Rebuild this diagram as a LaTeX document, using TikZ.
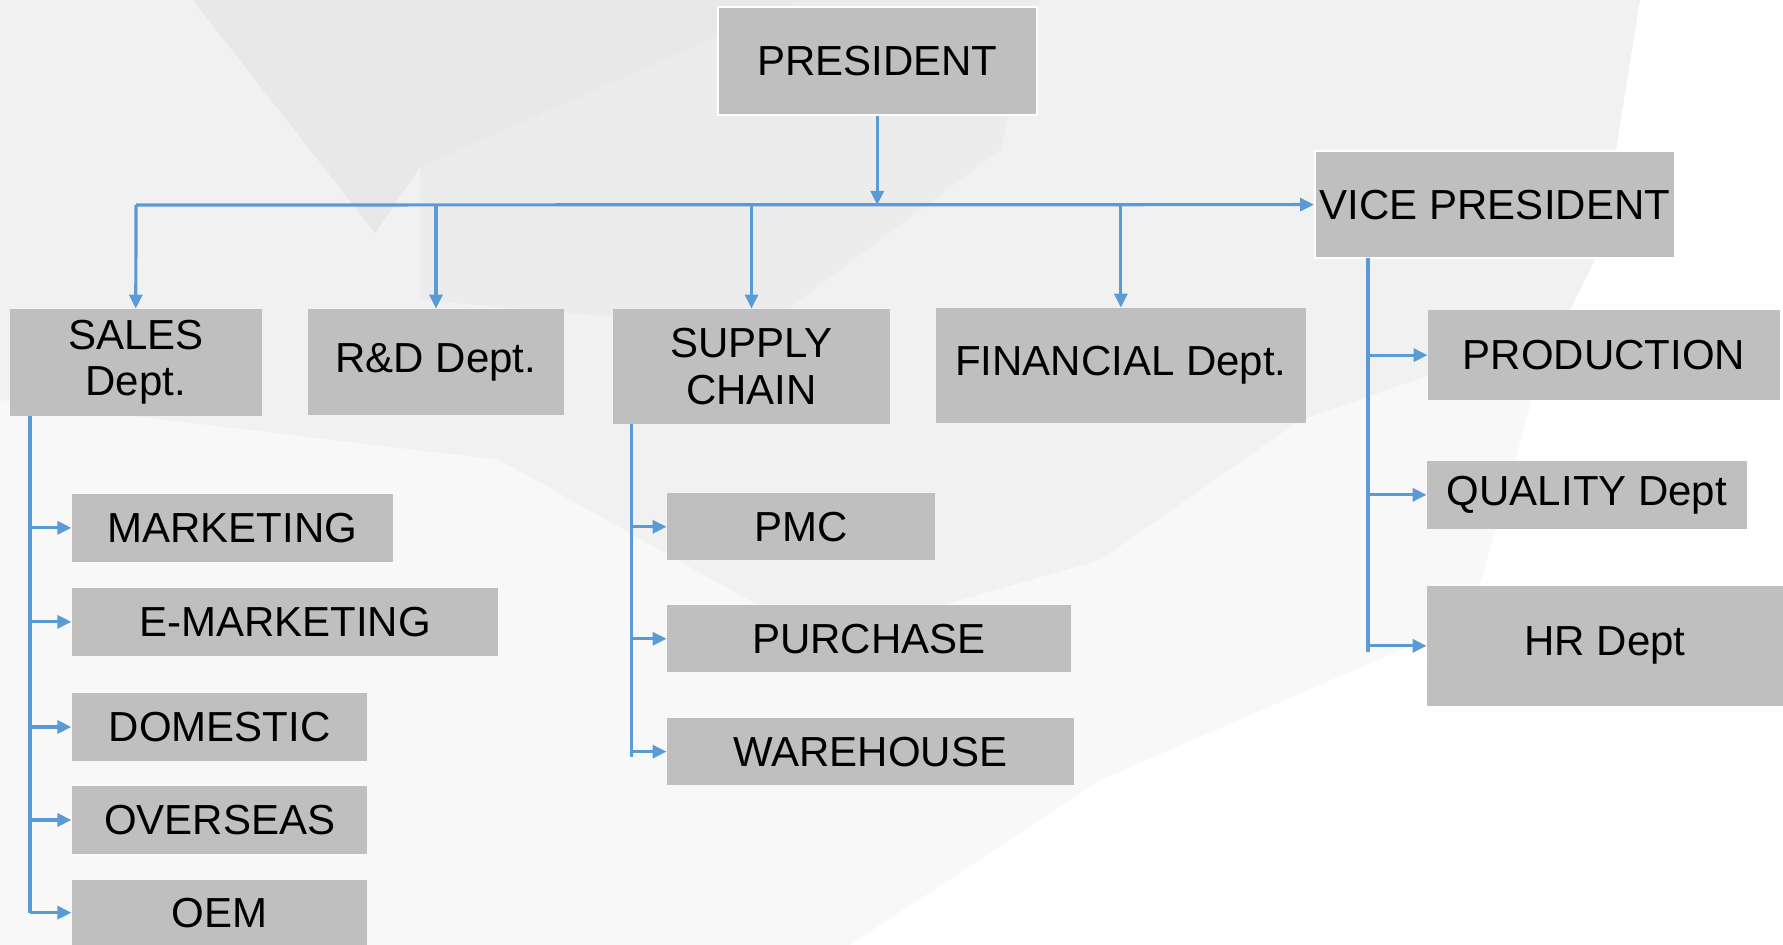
\documentclass[tikz,border=0pt]{standalone}
\usepackage{fontspec}
\setmainfont{Liberation Sans}
\usetikzlibrary{arrows.meta}
\definecolor{boxgray}{HTML}{BFBFBF}
\definecolor{linkblue}{HTML}{5B9BD5}
\definecolor{bgA}{HTML}{F1F1F1}
\definecolor{bgB}{HTML}{E8E8E8}
\definecolor{bgC}{HTML}{ECECEC}
\definecolor{bgD}{HTML}{F8F8F8}
\begin{document}
\begin{tikzpicture}[x=0.5pt,y=-0.5pt,
  box/.style={fill=boxgray,inner sep=0pt,align=center,
    font=\fontsize{21pt}{23.3pt}\selectfont},
  wbox/.style={box,draw=white,line width=1pt},
  link/.style={draw=linkblue,line width=1.6pt},
  arr/.style={link,-{Triangle[length=7pt,width=6.5pt]}}]
\useasboundingbox (0,0) rectangle (1783,945);
% background
\fill[white] (0,0) rectangle (1783,945);
\fill[bgD] (0,300) -- (1560,300) -- (1470,620) -- (1100,780) -- (850,945) -- (0,945) -- cycle;
\fill[bgA] (0,0) -- (1640,0) -- (1600,250) -- (1560,330) -- (1300,420) -- (1100,560) -- (820,640) -- (500,460) -- (0,400) -- cycle;
\fill[bgC] (420,167) -- (800,0) -- (1040,0) -- (1000,150) -- (760,330) -- (420,300) -- cycle;
\fill[bgB] (193,0) -- (800,0) -- (420,167) -- (375,233) -- cycle;
% nodes
\node[wbox,minimum width=159.75pt,minimum height=54pt] (pres) at (877.25,61) {PRESIDENT};
\node[wbox,minimum width=180pt,minimum height=53.9pt] (vp) at (1495,204.6) {VICE PRESIDENT};
\node[box,minimum width=126pt,minimum height=53.35pt] (sales) at (135.8,362.35) {SALES\\Dept.};
\node[box,minimum width=128pt,minimum height=52.85pt] (rd) at (436,361.85) {R\&D Dept.};
\node[box,minimum width=138.5pt,minimum height=57.35pt] (supply) at (751.5,366.35) {SUPPLY\\CHAIN};
\node[box,minimum width=185.15pt,minimum height=57.35pt] (fin) at (1120.85,365.35) {FINANCIAL Dept.};
\node[box,minimum width=176pt,minimum height=45.15pt] (prod) at (1604,355.15) {PRODUCTION};
\node[box,minimum width=160pt,minimum height=33.85pt] (qual) at (1587,494.85) {QUALITY Dept};
\node[box,minimum width=178pt,minimum height=59.85pt] (hr) at (1605,645.85) {HR Dept};
\node[box,minimum width=160.45pt,minimum height=33.85pt] (mkt) at (232.25,527.85) {MARKETING};
\node[box,minimum width=213.25pt,minimum height=33.85pt] (emkt) at (285.05,621.85) {E-MARKETING};
\node[box,minimum width=147.8pt,minimum height=33.7pt] (dom) at (219.6,727) {DOMESTIC};
\node[box,minimum width=147.8pt,minimum height=33.7pt] (ovs) at (219.6,820) {OVERSEAS};
\node[box,minimum width=147.8pt,minimum height=32.35pt] (oem) at (219.6,912.65) {OEM};
\node[box,minimum width=134pt,minimum height=33.5pt] (pmc) at (801,526.8) {PMC};
\node[box,minimum width=201.8pt,minimum height=33.5pt] (pur) at (868.8,638.8) {PURCHASE};
\node[box,minimum width=203.25pt,minimum height=33.65pt] (wh) at (870.25,751.65) {WAREHOUSE};
% coordinates
\coordinate (hub) at (877.25,205);
\coordinate (hl) at (136,205);
\coordinate (s0) at (30,415.7);
\coordinate (s1) at (30,912.65);
\coordinate (c0) at (631.5,423.7);
\coordinate (c1) at (631.5,757);
\coordinate (v0) at (1368,258.5);
\coordinate (v1) at (1368,652);
% connectors
\draw[arr] (pres.south) -- (hub);
\draw[arr] (hl) -- (vp.west);
\draw[arr] (hl) -- (sales.north);
\draw[arr] (rd.north |- hl) -- (rd.north);
\draw[arr] (supply.north |- hl) -- (supply.north);
\draw[arr] (fin.north |- hl) -- (fin.north);
\draw[link] (s0) -- (s1);
\foreach \n in {mkt,emkt,dom,ovs,oem} \draw[arr] (s0 |- \n.west) -- (\n.west);
\draw[link] (c0) -- (c1);
\foreach \n in {pmc,pur,wh} \draw[arr] (c0 |- \n.west) -- (\n.west);
\draw[link] (v0) -- (v1);
\foreach \n in {prod,qual,hr} \draw[arr] (v0 |- \n.west) -- (\n.west);
\end{tikzpicture}
\end{document}
